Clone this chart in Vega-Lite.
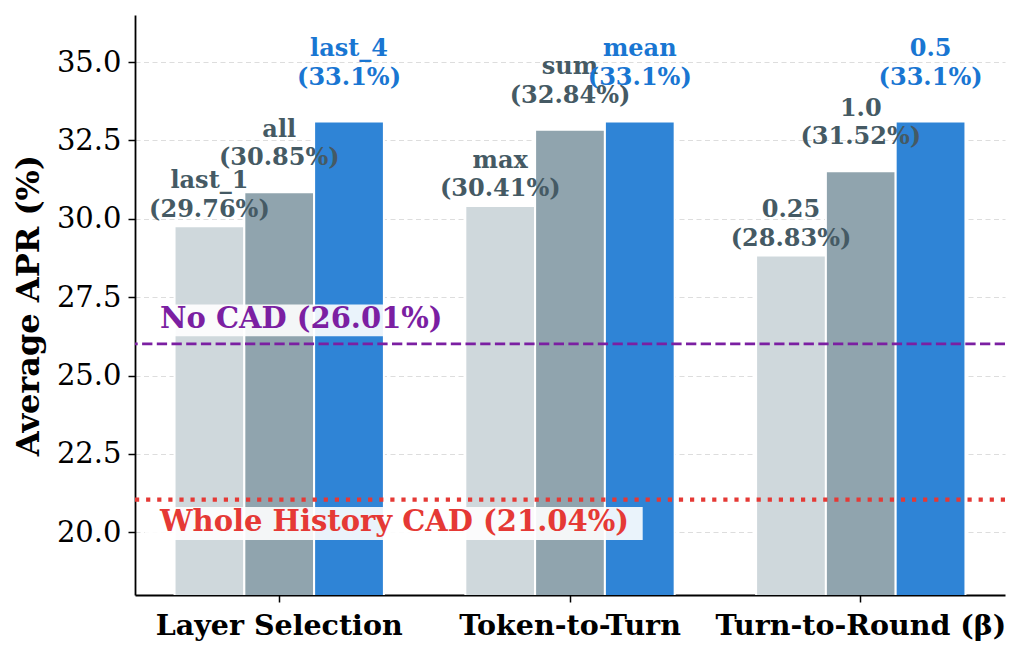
{
  "$schema": "https://vega.github.io/schema/vega-lite/v6.json",
  "width": 870,
  "height": 580,
  "autosize": {"type": "none"},
  "padding": {"left": 135, "top": 15, "right": 20, "bottom": 60},
  "background": "white",
  "config": {"view": {"stroke": null}, "font": "DejaVu Serif"},
  "datasets": {
    "results": [
      {"group": "Layer Selection", "slot": 1, "setting": "last_1", "apr": 29.76},
      {"group": "Layer Selection", "slot": 2, "setting": "all", "apr": 30.85},
      {"group": "Layer Selection", "slot": 3, "setting": "last_4", "apr": 33.1},
      {"group": "Token-to-Turn", "slot": 1, "setting": "max", "apr": 30.41},
      {"group": "Token-to-Turn", "slot": 2, "setting": "sum", "apr": 32.84},
      {"group": "Token-to-Turn", "slot": 3, "setting": "mean", "apr": 33.1},
      {"group": "Turn-to-Round (β)", "slot": 1, "setting": "0.25", "apr": 28.83},
      {"group": "Turn-to-Round (β)", "slot": 2, "setting": "1.0", "apr": 31.52},
      {"group": "Turn-to-Round (β)", "slot": 3, "setting": "0.5", "apr": 33.1}
    ],
    "baselines": [
      {"baseline": "No CAD", "apr": 26.01},
      {"baseline": "Whole History CAD", "apr": 21.04}
    ]
  },
  "encoding": {
    "y": {
      "field": "apr",
      "type": "quantitative",
      "scale": {"domain": [18, 36.5], "nice": false, "zero": false},
      "axis": {
        "title": "Average APR (%)",
        "titleFont": "DejaVu Serif",
        "titleFontSize": 32,
        "titleFontWeight": "bold",
        "titleColor": "black",
        "titlePadding": 11,
        "values": [20, 22.5, 25, 27.5, 30, 32.5, 35],
        "format": ".1f",
        "labelFont": "DejaVu Serif",
        "labelFontSize": 29,
        "labelColor": "black",
        "labelPadding": 7,
        "tickSize": 7,
        "tickWidth": 1.5,
        "tickColor": "black",
        "domainColor": "black",
        "domainWidth": 1.8,
        "grid": true,
        "gridColor": "#dddddd",
        "gridDash": [5, 3.5],
        "gridWidth": 1.2
      }
    }
  },
  "layer": [
    {
      "data": {"name": "results"},
      "transform": [
        {"calculate": "datum.setting + '\\n(' + format(datum.apr, '.2~f') + '%)'", "as": "label"}
      ],
      "encoding": {
        "x": {
          "field": "group",
          "type": "nominal",
          "sort": null,
          "scale": {"paddingInner": 0.28, "paddingOuter": 0.136},
          "axis": {
            "title": null,
            "labelAngle": 0,
            "labelLimit": 0,
            "labelFont": "DejaVu Serif",
            "labelFontSize": 28.5,
            "labelFontWeight": "bold",
            "labelColor": "black",
            "labelPadding": 9,
            "tickSize": 7,
            "tickWidth": 1.5,
            "tickColor": "black",
            "domainColor": "black",
            "domainWidth": 1.8,
            "grid": false
          }
        },
        "xOffset": {"field": "slot", "type": "nominal", "scale": {"paddingInner": 0, "paddingOuter": 0}}
      },
      "layer": [
        {
          "mark": {"type": "bar", "clip": true, "stroke": "white", "strokeWidth": 2},
          "encoding": {
            "color": {
              "field": "slot",
              "type": "nominal",
              "scale": {"domain": [1, 2, 3], "range": ["#CFD8DC", "#90A4AE", "#2F84D6"]},
              "legend": null
            }
          }
        },
        {
          "transform": [{"filter": "datum.slot == 1"}],
          "mark": {"type": "text", "lineBreak": "\n", "baseline": "alphabetic", "dy": -38, "fontSize": 24, "lineHeight": 28.5, "fontWeight": "bold", "font": "DejaVu Serif", "color": "#455A64"},
          "encoding": {"text": {"field": "label"}}
        },
        {
          "transform": [{"filter": "datum.slot == 2"}],
          "mark": {"type": "text", "lineBreak": "\n", "baseline": "alphabetic", "dy": -55.5, "fontSize": 24, "lineHeight": 28.5, "fontWeight": "bold", "font": "DejaVu Serif", "color": "#455A64"},
          "encoding": {"text": {"field": "label"}}
        },
        {
          "transform": [{"filter": "datum.slot == 3"}],
          "mark": {"type": "text", "lineBreak": "\n", "baseline": "alphabetic", "dy": -65.2, "fontSize": 24, "lineHeight": 28.5, "fontWeight": "bold", "font": "DejaVu Serif", "color": "#1976D2"},
          "encoding": {"text": {"field": "label"}}
        }
      ]
    },
    {
      "data": {"name": "baselines"},
      "transform": [
        {"calculate": "datum.baseline + ' (' + format(datum.apr, '.2~f') + '%)'", "as": "label"}
      ],
      "layer": [
        {
          "transform": [{"filter": "datum.baseline == 'No CAD'"}],
          "mark": {"type": "rule", "color": "#7B1FA2", "strokeWidth": 2.8, "strokeDash": [10.3, 4.4]},
          "encoding": {}
        },
        {
          "transform": [{"filter": "datum.baseline == 'Whole History CAD'"}],
          "mark": {"type": "rule", "color": "#E53935", "strokeWidth": 4.2, "strokeDash": [4.2, 6.9]},
          "encoding": {}
        },
        {
          "transform": [{"filter": "datum.baseline == 'No CAD'"}],
          "mark": {"type": "rect", "fill": "white", "fillOpacity": 0.9, "yOffset": -39.3, "y2Offset": -7.6},
          "encoding": {
            "x": {"datum": -0.463, "type": "quantitative", "scale": {"domain": [-0.496, 2.496], "nice": false, "zero": false}, "axis": null},
            "x2": {"datum": 0.601},
            "y2": {"field": "apr"}
          }
        },
        {
          "transform": [{"filter": "datum.baseline == 'Whole History CAD'"}],
          "mark": {"type": "rect", "fill": "white", "fillOpacity": 0.9, "yOffset": 7.4, "y2Offset": 40.4},
          "encoding": {
            "x": {"datum": -0.463, "type": "quantitative", "scale": {"domain": [-0.496, 2.496], "nice": false, "zero": false}, "axis": null},
            "x2": {"datum": 1.25},
            "y2": {"field": "apr"}
          }
        },
        {
          "transform": [{"filter": "datum.baseline == 'No CAD'"}],
          "mark": {"type": "text", "align": "left", "baseline": "alphabetic", "dy": -16, "fontSize": 29, "fontWeight": "bold", "font": "DejaVu Serif", "color": "#7B1FA2"},
          "encoding": {
            "x": {"datum": -0.41, "type": "quantitative", "scale": {"domain": [-0.496, 2.496], "nice": false, "zero": false}, "axis": null},
            "text": {"field": "label"}
          }
        },
        {
          "transform": [{"filter": "datum.baseline == 'Whole History CAD'"}],
          "mark": {"type": "text", "align": "left", "baseline": "alphabetic", "dy": 31.4, "fontSize": 29, "fontWeight": "bold", "font": "DejaVu Serif", "color": "#E53935"},
          "encoding": {
            "x": {"datum": -0.41, "type": "quantitative", "scale": {"domain": [-0.496, 2.496], "nice": false, "zero": false}, "axis": null},
            "text": {"field": "label"}
          }
        }
      ]
    }
  ],
  "resolve": {"scale": {"x": "independent"}}
}
